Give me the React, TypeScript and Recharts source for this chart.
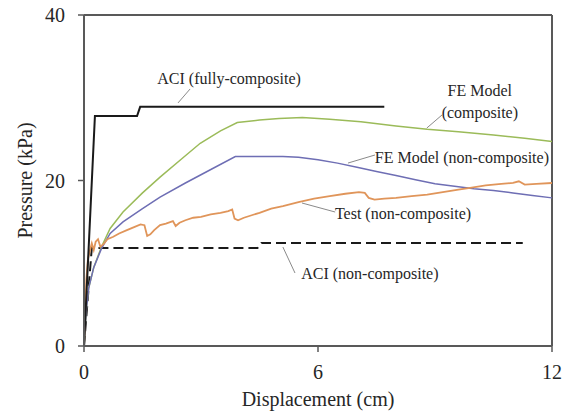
import {
  Label,
  Line,
  LineChart,
  ReferenceDot,
  ReferenceLine,
  XAxis,
  YAxis,
} from "recharts";

const WIDTH = 571;
const HEIGHT = 418;
const FONT = "'Liberation Serif', 'Times New Roman', serif";
const AXIS = "#595959";
const INK = "#262626";

type Pt = { x: number; y: number };

const X_TICKS = [0, 6, 12];
const Y_TICKS = [0, 20, 40];

const aciFull: Pt[] = [
  { x: 0, y: 0 },
  { x: 0.28, y: 27.8 },
  { x: 1.36, y: 27.8 },
  { x: 1.44, y: 28.9 },
  { x: 7.7, y: 28.9 },
];

const aciNon: Pt[] = [
  { x: 0, y: 0 },
  { x: 0.2, y: 11.85 },
  { x: 4.45, y: 11.85 },
  { x: 4.55, y: 12.45 },
  { x: 11.25, y: 12.45 },
];

const feComposite: Pt[] = [
  { x: 0, y: 0 },
  { x: 0.05, y: 4 },
  { x: 0.12, y: 7 },
  { x: 0.25, y: 9.5 },
  { x: 0.45, y: 12 },
  { x: 0.67, y: 14.2 },
  { x: 1.0, y: 16.2 },
  { x: 1.5, y: 18.5 },
  { x: 1.95, y: 20.4 },
  { x: 2.5, y: 22.6 },
  { x: 2.98, y: 24.5 },
  { x: 3.5, y: 26.0 },
  { x: 3.93, y: 27.0 },
  { x: 4.5, y: 27.3 },
  { x: 5.0, y: 27.5 },
  { x: 5.6, y: 27.6 },
  { x: 6.3, y: 27.4 },
  { x: 7.1, y: 27.1 },
  { x: 8.0, y: 26.6 },
  { x: 8.8, y: 26.2 },
  { x: 9.6, y: 25.9 },
  { x: 10.5, y: 25.5 },
  { x: 11.3, y: 25.1 },
  { x: 12, y: 24.7 },
];

const feNonComposite: Pt[] = [
  { x: 0, y: 0 },
  { x: 0.05, y: 4 },
  { x: 0.12, y: 7 },
  { x: 0.25, y: 9.5 },
  { x: 0.45, y: 11.8 },
  { x: 0.67, y: 13.6 },
  { x: 1.0, y: 15.0 },
  { x: 1.5, y: 16.6 },
  { x: 1.95, y: 18.0 },
  { x: 2.6, y: 19.7 },
  { x: 3.24, y: 21.3 },
  { x: 3.88, y: 22.9 },
  { x: 4.5, y: 22.9 },
  { x: 5.1, y: 22.9 },
  { x: 5.5, y: 22.8 },
  { x: 6.0, y: 22.5 },
  { x: 6.5, y: 22.1 },
  { x: 7.0, y: 21.6 },
  { x: 7.5, y: 21.1 },
  { x: 8.0, y: 20.6 },
  { x: 8.5, y: 20.1 },
  { x: 9.0, y: 19.6 },
  { x: 9.5, y: 19.3 },
  { x: 10.0, y: 19.0 },
  { x: 10.5, y: 18.8 },
  { x: 11.0, y: 18.5 },
  { x: 11.5, y: 18.2 },
  { x: 12, y: 17.9 },
];

const test: Pt[] = [
  { x: 0, y: 0 },
  { x: 0.03, y: 4 },
  { x: 0.06, y: 8 },
  { x: 0.1, y: 10.5 },
  { x: 0.15, y: 11.5 },
  { x: 0.2, y: 12.4 },
  { x: 0.25, y: 11.6 },
  { x: 0.3, y: 12.6 },
  { x: 0.36, y: 12.9 },
  { x: 0.42, y: 12.0 },
  { x: 0.5, y: 12.3 },
  { x: 0.6, y: 12.9 },
  { x: 0.75, y: 13.2 },
  { x: 0.9, y: 13.6 },
  { x: 1.1, y: 14.0 },
  { x: 1.3, y: 14.4 },
  { x: 1.45, y: 14.7 },
  { x: 1.55, y: 14.6 },
  { x: 1.62, y: 13.3 },
  { x: 1.7, y: 13.5 },
  { x: 1.8, y: 14.0 },
  { x: 1.95, y: 14.6 },
  { x: 2.1, y: 14.8 },
  { x: 2.28, y: 15.1 },
  { x: 2.35, y: 14.5 },
  { x: 2.45, y: 14.9 },
  { x: 2.6, y: 15.2 },
  { x: 2.8, y: 15.5 },
  { x: 3.0, y: 15.6 },
  { x: 3.25, y: 15.9 },
  { x: 3.5, y: 16.1 },
  { x: 3.7, y: 16.3 },
  { x: 3.8, y: 16.5 },
  { x: 3.86, y: 15.4 },
  { x: 3.95, y: 15.2 },
  { x: 4.1, y: 15.5 },
  { x: 4.3, y: 15.8 },
  { x: 4.5, y: 16.1 },
  { x: 4.8, y: 16.6 },
  { x: 5.1, y: 16.9 },
  { x: 5.5, y: 17.4 },
  { x: 5.9, y: 17.8 },
  { x: 6.3, y: 18.1 },
  { x: 6.7, y: 18.4 },
  { x: 7.05, y: 18.6 },
  { x: 7.2, y: 18.5 },
  { x: 7.3, y: 17.9 },
  { x: 7.45, y: 17.7 },
  { x: 7.7, y: 17.8 },
  { x: 8.0, y: 17.9 },
  { x: 8.4, y: 18.1 },
  { x: 8.8, y: 18.3 },
  { x: 9.2, y: 18.6 },
  { x: 9.6, y: 18.9 },
  { x: 9.9, y: 19.1 },
  { x: 10.3, y: 19.4 },
  { x: 10.7, y: 19.6 },
  { x: 11.0, y: 19.7 },
  { x: 11.15, y: 19.9 },
  { x: 11.3, y: 19.5 },
  { x: 11.6, y: 19.6 },
  { x: 12, y: 19.7 },
];

// callouts: text anchor and leader line, in data units
const CALLOUTS = [
  { text: "ACI (fully-composite)", at: [3.72, 32.4], from: [2.72, 31.06], to: [2.41, 29.37] },
  { text: "FE Model", at: [10.15, 30.94] },
  { text: "(composite)", at: [10.15, 28.28], from: [9.18, 27.92], to: [8.79, 26.34] },
  { text: "FE Model (non-composite)", at: [9.69, 22.84], from: [7.46, 23.08], to: [6.77, 22.11] },
  { text: "Test (non-composite)", at: [8.18, 16.07], from: [6.44, 16.19], to: [5.59, 17.28] },
  { text: "ACI (non-composite)", at: [7.33, 8.82], from: [5.41, 8.82], to: [5.1, 11.96] },
];

const tickStyle = { fill: INK, fontSize: 20, fontFamily: FONT };

export default function App() {
  return (
    <div style={{ position: "absolute", left: 0, top: 0, width: WIDTH, height: HEIGHT, background: "#fff" }}>
      <LineChart
        width={WIDTH}
        height={HEIGHT}
        margin={{ top: 15, right: 19, bottom: 10, left: 0 }}
      >
        <XAxis
          dataKey="x"
          type="number"
          domain={[0, 12]}
          ticks={X_TICKS}
          allowDuplicatedCategory={false}
          height={62}
          tickSize={6}
          tickMargin={13}
          axisLine={{ stroke: AXIS, strokeWidth: 2 }}
          tickLine={{ stroke: AXIS, strokeWidth: 1.5 }}
          tick={tickStyle}
        >
          <Label
            value="Displacement (cm)"
            position="insideBottom"
            offset={2}
            style={{ fill: INK, fontSize: 20, fontFamily: FONT }}
          />
        </XAxis>
        <YAxis
          type="number"
          domain={[0, 40]}
          ticks={Y_TICKS}
          width={84}
          tickSize={6}
          tickMargin={13}
          axisLine={{ stroke: AXIS, strokeWidth: 2 }}
          tickLine={{ stroke: AXIS, strokeWidth: 1.5 }}
          tick={tickStyle}
        >
          <Label
            value="Pressure (kPa)"
            position="insideLeft"
            angle={-90}
            offset={25}
            style={{ fill: INK, fontSize: 20, fontFamily: FONT, textAnchor: "middle" }}
          />
        </YAxis>

        <ReferenceLine y={40} stroke={AXIS} strokeWidth={2} />
        <ReferenceLine x={12} stroke={AXIS} strokeWidth={2} />

        <Line data={aciNon} dataKey="y" stroke="#1a1a1a" strokeWidth={2} strokeDasharray="10 5" dot={false} isAnimationActive={false} />
        <Line data={feComposite} dataKey="y" stroke="#9bbb59" strokeWidth={1.5} dot={false} isAnimationActive={false} />
        <Line data={feNonComposite} dataKey="y" stroke="#6e6eb4" strokeWidth={1.5} dot={false} isAnimationActive={false} />
        <Line data={test} dataKey="y" stroke="#e0955a" strokeWidth={1.8} dot={false} isAnimationActive={false} />
        <Line data={aciFull} dataKey="y" stroke="#1a1a1a" strokeWidth={2} dot={false} isAnimationActive={false} />

        {CALLOUTS.filter((c) => c.from && c.to).map((c) => (
          <ReferenceLine
            key={`l-${c.text}`}
            segment={[
              { x: c.from![0], y: c.from![1] },
              { x: c.to![0], y: c.to![1] },
            ]}
            stroke="#8a8a8a"
            strokeWidth={1}
          />
        ))}
        {CALLOUTS.map((c) => (
          <ReferenceDot
            key={`t-${c.text}`}
            x={c.at[0]}
            y={c.at[1]}
            r={0}
            fill="none"
            stroke="none"
            label={{
              value: c.text,
              position: "center",
              style: { fill: INK, fontSize: 16, fontFamily: FONT },
            }}
          />
        ))}
      </LineChart>
    </div>
  );
}
